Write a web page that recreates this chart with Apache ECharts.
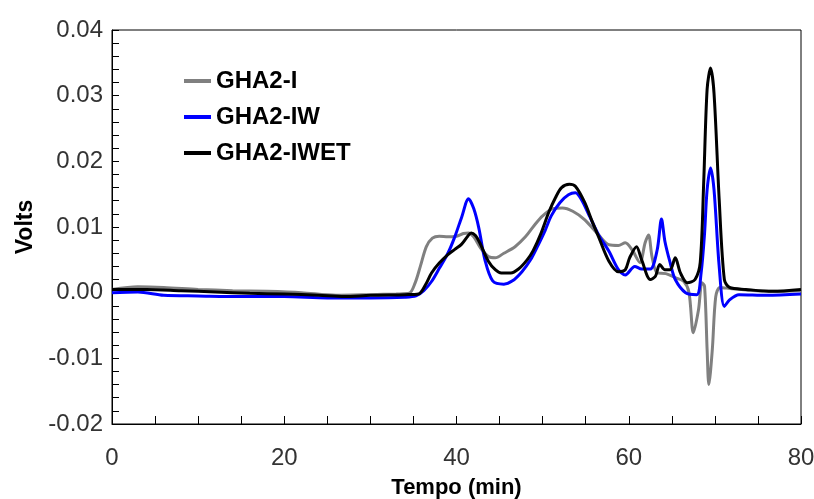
<!DOCTYPE html>
<html>
<head>
<meta charset="utf-8">
<script src="https://cdn.jsdelivr.net/npm/echarts@6/dist/echarts.min.js"></script>
<style>
  html, body { margin: 0; padding: 0; background: #fff; }
  #chart { width: 814px; height: 499px; }
</style>
</head>
<body>
<div id="chart"></div>
<script>
const tI = [0, 3, 6, 10, 14, 18, 22, 26, 30, 33, 34.5, 35.2, 35.8, 36.5, 37.2, 38, 39, 40, 40.8, 41.4, 42, 42.8, 43.7, 44.5, 45.5, 46.8, 48, 49, 50, 51.2, 52.3, 53.5, 54.9, 56.5, 57.7, 58.8, 59.6, 60.4, 61.3, 61.9, 62.3, 62.7, 63.3, 64.3, 65.4, 66.4, 67, 67.5, 68.1, 68.5, 68.8, 69.1, 69.3, 69.7, 70.1, 70.6, 72, 76, 80]
const vI = [0.0005, 0.0009, 0.0008, 0.0005, 0.0003, 0.0002, 0.0000, -0.0004, -0.0003, -0.0002, -0.0001, 0.0015, 0.004, 0.007, 0.0083, 0.0086, 0.0085, 0.0086, 0.009, 0.0091, 0.0085, 0.0068, 0.0055, 0.0053, 0.006, 0.007, 0.0085, 0.0102, 0.0117, 0.0128, 0.0129, 0.0124, 0.0111, 0.0088, 0.0073, 0.0072, 0.0076, 0.0065, 0.0046, 0.0076, 0.0088, 0.0055, 0.003, 0.0029, 0.0023, 0.0017, 0.0000, -0.0061, -0.0026, 0.0015, 0.001, -0.0087, -0.014, -0.0087, -0.0006, 0.0008, 0.0006, 0.0002, 0.0003]

const tIW = [0, 3, 6, 10, 15, 20, 25, 30, 34, 35.3, 36.2, 37.1, 38, 39, 39.8, 40.6, 41.4, 42, 42.6, 43.3, 44.2, 45.5, 46.5, 47.6, 48.6, 49.5, 50.3, 51, 52, 53, 53.8, 54.5, 55.5, 56.5, 57.7, 58.8, 59.6, 60.7, 61.5, 62.5, 63.3, 63.8, 64.2, 64.8, 65.4, 66.6, 67.9, 68.4, 68.8, 69.1, 69.5, 69.9, 70.5, 71.1, 71.7, 72.8, 76, 80]
const vIW = [0.0000, 0.0001, -0.0004, -0.0005, -0.0006, -0.0006, -0.0008, -0.0008, -0.0007, -0.0005, 0.0003, 0.0017, 0.0037, 0.006, 0.0085, 0.0115, 0.0143, 0.0128, 0.0098, 0.005, 0.0018, 0.0013, 0.0018, 0.0032, 0.005, 0.0073, 0.0095, 0.0117, 0.0137, 0.0149, 0.0152, 0.0142, 0.0115, 0.0088, 0.0063, 0.0035, 0.0027, 0.004, 0.0036, 0.0036, 0.0065, 0.0112, 0.0078, 0.0046, 0.002, 0.0000, -0.0003, 0.003, 0.009, 0.0157, 0.019, 0.0157, 0.004, -0.0021, -0.0011, -0.0003, -0.0004, -0.0002]

const tIWET = [0, 4, 8, 12, 16, 20, 24, 27, 30, 34, 35.6, 36.4, 37.1, 38, 39, 39.8, 40.6, 41.3, 41.7, 42.2, 42.7, 43.7, 44.5, 45.2, 46.3, 47.2, 48.2, 48.9, 49.8, 50.7, 51.5, 52.2, 53.1, 53.8, 54.9, 55.7, 56.5, 57.7, 58.8, 59.6, 60.1, 60.9, 61.5, 62.5, 63.1, 63.6, 64.2, 64.8, 65.4, 66, 66.8, 67.7, 68.3, 68.7, 69.1, 69.5, 69.9, 70.5, 71.1, 71.7, 73.6, 76.7, 80]
const vIWET = [0.0005, 0.0005, 0.0003, 0.0001, -0.0001, -0.0002, -0.0004, -0.0006, -0.0004, -0.0003, -0.0002, 0.0012, 0.003, 0.0045, 0.0058, 0.0066, 0.0074, 0.0086, 0.0091, 0.0087, 0.0076, 0.0048, 0.0035, 0.003, 0.003, 0.0036, 0.005, 0.0064, 0.009, 0.0122, 0.0145, 0.016, 0.0165, 0.0162, 0.0137, 0.011, 0.0085, 0.0048, 0.0032, 0.0035, 0.0053, 0.007, 0.005, 0.002, 0.0025, 0.0043, 0.0035, 0.0035, 0.0053, 0.003, 0.0015, 0.002, 0.0046, 0.0167, 0.031, 0.0342, 0.0304, 0.0142, 0.002, 0.0008, 0.0005, 0.0002, 0.0005]

const seriesNames = ['GHA2-I', 'GHA2-IW', 'GHA2-IWET']
const seriesColors = ['#808080', '#0000ff', '#000000']

const pairs = (t, v) => t.map((x, i) => [x, v[i]])
const font = 'Liberation Sans, Arial, sans-serif'

const chart = echarts.init(document.getElementById('chart'))

const mkSeries = (name, color, data) => ({
  name: name,
  type: 'line',
  data: data,
  showSymbol: false,
  symbol: 'none',
  smooth: 0.3,
  lineStyle: { color: color, width: 3 },
  itemStyle: { color: color }
})

chart.setOption({
  animation: false,
  backgroundColor: '#fff',
  grid: {
    left: 112, right: 13, top: 30, bottom: 75,
    outerBoundsMode: 'none',
    containLabel: false,
    show: true, borderColor: '#000', borderWidth: 1
  },
  legend: {
    orient: 'vertical',
    left: 179, top: 64,
    itemWidth: 27, itemHeight: 4, itemGap: 12,
    icon: 'rect',
    textStyle: { fontFamily: font, fontSize: 24, fontWeight: 'bold', color: '#000' },
    data: seriesNames
  },
  xAxis: {
    type: 'value',
    min: 0, max: 80, interval: 20,
    name: 'Tempo (min)',
    nameLocation: 'middle',
    nameGap: 53,
    nameTextStyle: { fontFamily: font, fontSize: 22, fontWeight: 'bold', color: '#000' },
    axisLine: { onZero: false, lineStyle: { color: '#000', width: 1 } },
    axisTick: { inside: true, length: 8, lineStyle: { color: '#000' } },
    minorTick: { show: true, splitNumber: 4, length: 8, lineStyle: { color: '#000' } },
    axisLabel: { fontFamily: font, fontSize: 24, color: '#333', margin: 22 },
    splitLine: { show: false }
  },
  yAxis: {
    type: 'value',
    min: -0.02, max: 0.04, interval: 0.01,
    name: 'Volts',
    nameLocation: 'middle',
    nameGap: 75,
    nameRotate: 90,
    nameTextStyle: { fontFamily: font, fontSize: 23, fontWeight: 'bold', color: '#000' },
    axisLine: { onZero: false, lineStyle: { color: '#000', width: 1 } },
    axisTick: { inside: true, length: 7, lineStyle: { color: '#000' } },
    minorTick: { show: true, splitNumber: 5, length: 7, lineStyle: { color: '#000' } },
    axisLabel: {
      fontFamily: font, fontSize: 24, color: '#333', margin: 9,
      formatter: (v) => v.toFixed(2)
    },
    splitLine: { show: false }
  },
  series: [
    mkSeries(seriesNames[0], seriesColors[0], pairs(tI, vI)),
    mkSeries(seriesNames[1], seriesColors[1], pairs(tIW, vIW)),
    mkSeries(seriesNames[2], seriesColors[2], pairs(tIWET, vIWET))
  ]
})
</script>
</body>
</html>
